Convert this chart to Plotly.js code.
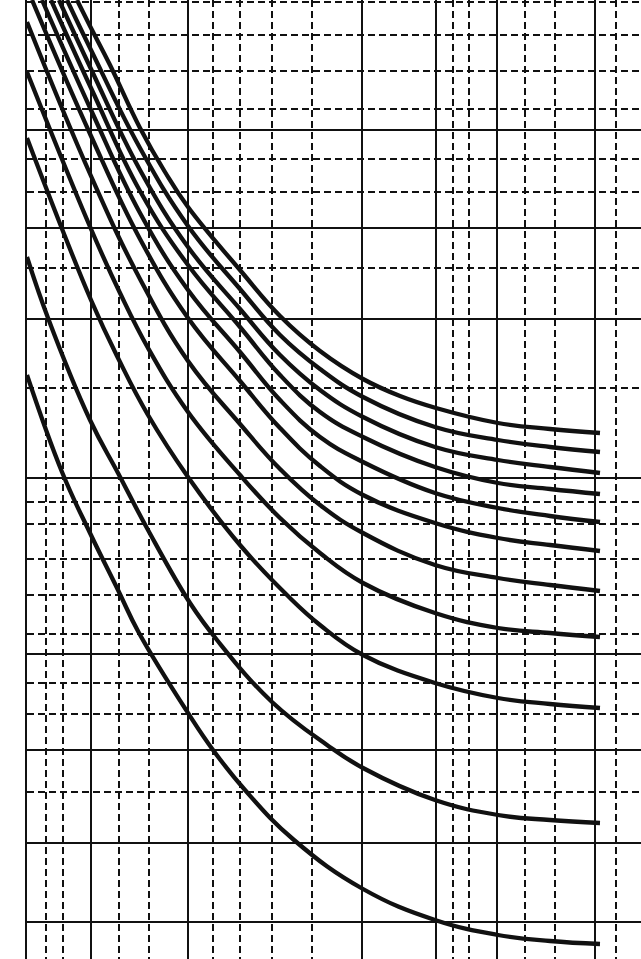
<!DOCTYPE html>
<html>
<head>
<meta charset="utf-8">
<script src="https://cdn.plot.ly/plotly-3.0.1.min.js"></script>
<style>html,body{margin:0;padding:0;background:#fff;}#chart{width:641px;height:959px;}</style>
</head>
<body>
<div id="chart"></div>
<script>
// Grid positions (chart units; y measured downward)
const xMajor = [91, 188, 362, 436, 497, 595];
const xMinor = [46, 63, 119, 149, 213, 240, 272, 312, 453, 469, 525, 555, 616];
const yMajor = [130, 228, 319, 478, 654, 750, 843, 922];
const yMinor = [2, 35, 71, 109, 159, 192, 268, 388, 502, 524, 559, 595, 634, 683, 714, 792];

// Curves, top (c1) to bottom (c11)
const c1x = [77, 91, 110, 140, 165, 188, 240, 280, 320, 363, 400, 436, 498, 550, 600];
const c1y = [0, 28, 65, 128, 172, 207, 270, 316, 351, 379, 396, 408, 423, 429, 433];
const c2x = [67, 91, 140, 188, 240, 280, 320, 363, 435, 498, 550, 600];
const c2y = [0, 50, 148, 226, 289, 335, 369, 397, 427, 440, 447, 452];
const c3x = [59, 91, 140, 188, 240, 280, 320, 363, 435, 498, 550, 600];
const c3y = [0, 69, 170, 247, 309, 355, 390, 417, 447, 460, 467, 473];
const c4x = [51, 91, 140, 188, 240, 280, 320, 363, 435, 498, 550, 600];
const c4y = [0, 88, 191, 265, 327, 375, 412, 437, 467, 483, 489, 494];
const c5x = [42, 91, 140, 188, 240, 280, 320, 363, 435, 498, 550, 600];
const c5y = [0, 110, 213, 290, 352, 400, 437, 462, 493, 508, 516, 522];
const c6x = [32, 91, 140, 188, 240, 280, 320, 363, 435, 498, 550, 600];
const c6y = [0, 136, 239, 318, 381, 428, 466, 495, 523, 538, 545, 551];
const c7x = [27, 91, 140, 188, 240, 280, 320, 363, 435, 498, 550, 600];
const c7y = [22, 176, 279, 361, 424, 469, 505, 533, 565, 578, 585, 591];
const c8x = [27, 91, 120, 148, 188, 240, 280, 320, 363, 435, 498, 550, 600];
const c8y = [72, 229, 293, 348, 412, 475, 518, 553, 583, 613, 628, 633, 637];
const c9x = [27, 91, 120, 148, 188, 240, 290, 320, 363, 435, 498, 550, 600];
const c9y = [138, 300, 362, 415, 477, 545, 598, 625, 655, 683, 698, 704, 708];
const c10x = [27, 48, 90, 118, 148, 190, 217, 272, 327, 363, 435, 498, 550, 600];
const c10y = [257, 318, 420, 473, 530, 603, 640, 702, 745, 768, 800, 815, 820, 823];
const c11x = [27, 62, 90, 118, 139, 188, 213, 245, 294, 363, 435, 498, 550, 600];
const c11y = [375, 472, 533, 590, 633, 713, 750, 790, 840, 889, 920, 935, 941, 944];

const curves = [
  [c1x, c1y], [c2x, c2y], [c3x, c3y], [c4x, c4y], [c5x, c5y], [c6x, c6y],
  [c7x, c7y], [c8x, c8y], [c9x, c9y], [c10x, c10y], [c11x, c11y]
];

const ink = '#111';
const data = curves.map(function (c) {
  return {
    x: c[0], y: c[1], type: 'scatter', mode: 'lines',
    line: {color: ink, width: 4.3, shape: 'spline', smoothing: 1.2},
    hoverinfo: 'skip', showlegend: false
  };
});

function axis(range, major, minor, showLine) {
  return {
    range: range, showticklabels: false, ticks: '', zeroline: false,
    tickmode: 'array', tickvals: major,
    showgrid: true, gridcolor: ink, gridwidth: 1.7,
    showline: showLine, linecolor: ink, linewidth: 2.4, mirror: false,
    minor: {tickmode: 'array', tickvals: minor, showgrid: true, gridcolor: ink,
            gridwidth: 2.1, griddash: '7px,4px', ticks: ''},
    fixedrange: true
  };
}

const layout = {
  width: 641, height: 959,
  margin: {l: 27, r: 0, t: 0, b: 0, pad: 0},
  paper_bgcolor: '#fff', plot_bgcolor: '#fff',
  xaxis: axis([27, 641], xMajor, xMinor, false),
  yaxis: axis([959, 0], yMajor, yMinor, true),
  showlegend: false
};

Plotly.newPlot('chart', data, layout, {staticPlot: true, displayModeBar: false});
</script>
</body>
</html>
